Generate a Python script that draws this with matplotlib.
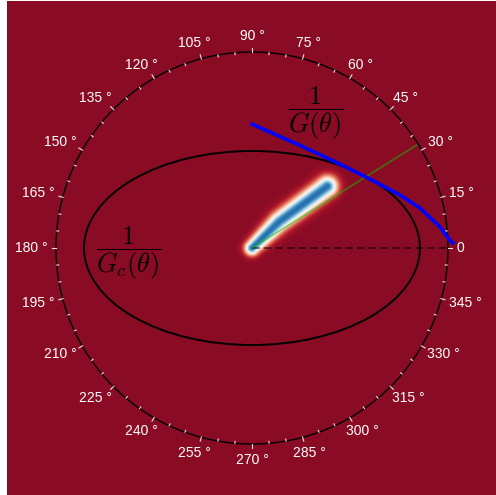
import numpy as np
import matplotlib.pyplot as plt
from matplotlib.patches import Ellipse, Circle

plt.rcParams['mathtext.fontset'] = 'cm'

# 1/G(theta) curve, polar (deg, r)
g_theta = [90, 64.9, 43.7, 30.3, 19.7, 13.4, 6.4, 2.3, 1.4]
g_r = [0.632, 0.578, 0.620, 0.697, 0.802, 0.881, 0.965, 1.01, 1.025]

# 1/Gc(theta) ellipse semi axes
ell_a = 0.857
ell_b = 0.495

# direction line
green_angle = 32.0
green_r = 0.99

# blurred stripe path
stripe_x = [0.0, 0.14, 0.385]
stripe_y = [0.0, 0.135, 0.315]
stripe_w = [0.024, 0.032, 0.034]

tick_major = np.arange(0, 360, 15)
tick_minor = np.arange(0, 360, 5)
labels = ['0'] + ['%d °' % a for a in tick_major[1:]]

W, H = 496, 495
fig = plt.figure(figsize=(W/100, H/100), dpi=100)
ax = fig.add_axes([7/W, 0, 489/W, 494/H])
xlim = (-1.25, 1.245)
ylim = (-1.26, 1.26)
ax.set_xlim(xlim)
ax.set_ylim(ylim)
ax.axis('off')
px = 196.0  # pixels per data unit

# background field
xs = np.linspace(xlim[0], xlim[1], 700)
ys = np.linspace(ylim[0], ylim[1], 700)
X, Y = np.meshgrid(xs, ys)
f = np.zeros(X.shape)
for i in range(len(stripe_x) - 1):
    x0, y0, x1, y1 = stripe_x[i], stripe_y[i], stripe_x[i+1], stripe_y[i+1]
    dx, dy = x1 - x0, y1 - y0
    t = np.clip(((X - x0)*dx + (Y - y0)*dy) / (dx*dx + dy*dy), 0, 1)
    d = np.hypot(X - (x0 + t*dx), Y - (y0 + t*dy))
    s = stripe_w[i] + (stripe_w[i+1] - stripe_w[i]) * t
    f = np.maximum(f, np.exp(-d**2 / (2*s**2)))
ax.imshow(0.05 + 0.83*f, cmap='RdBu', vmin=0, vmax=1, origin='lower',
          extent=[xlim[0], xlim[1], ylim[0], ylim[1]], interpolation='bilinear',
          aspect='auto')

ax.add_patch(Circle((0, 0), 1.0, fill=False, color='black', lw=1.0))
ax.add_patch(Ellipse((0, 0), 2*ell_a, 2*ell_b, fill=False, color='black', lw=1.4))

for a in tick_minor:
    r0, r1 = (0.998, 1.02) if a % 15 == 0 else (0.99, 1.0)
    c, s = np.cos(np.radians(a)), np.sin(np.radians(a))
    ax.plot([r0*c, r1*c], [r0*s, r1*s], color='#f0e0e0', lw=0.8)

renderer = fig.canvas.get_renderer()
for a, lab in zip(tick_major, labels):
    c, s = np.cos(np.radians(a)), np.sin(np.radians(a))
    t = ax.text(0, 0, lab, color='white', fontsize=10,
                family='Liberation Sans', ha='center', va='center')
    bb = t.get_window_extent(renderer)
    r = 1.045
    t.set_position((r*c + bb.width/2/px*c, r*s + bb.height/2/px*s))

ax.plot([0, 1.0], [0, 0], color='black', alpha=0.5, lw=1.4, ls=(0, (4, 2)))
gr = np.radians(green_angle)
ax.plot([0, green_r*np.cos(gr)], [0, green_r*np.sin(gr)], color='#10c000', alpha=0.5, lw=1.3)

th = np.radians(g_theta)
ax.plot(np.array(g_r)*np.cos(th), np.array(g_r)*np.sin(th), color='blue', lw=2.6)

ax.text(0.327, 0.685, r'$\dfrac{1}{G(\theta)}$', fontsize=19, ha='center', va='center')
ax.text(-0.628, -0.025, r'$\dfrac{1}{G_c(\theta)}$', fontsize=19, ha='center', va='center')

fig.savefig('out.png', dpi=100)
